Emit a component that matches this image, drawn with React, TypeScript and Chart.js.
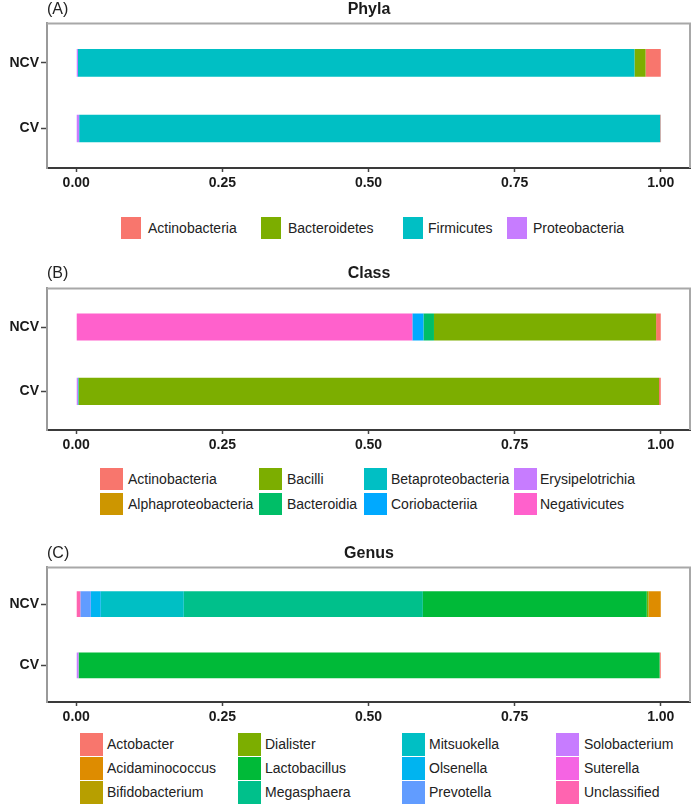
import React, { useEffect, useRef } from 'react';
import { Chart, registerables } from 'chart.js';

Chart.register(...registerables);

// ---------- data ----------
const samples = ['NCV', 'CV'];
const xTicks = [0, 0.25, 0.5, 0.75, 1];

const phylaNames = ['Actinobacteria', 'Bacteroidetes', 'Firmicutes', 'Proteobacteria'];
const phylaColors = ['#F8766D', '#7CAE00', '#00BFC4', '#C77CFF'];
const phylaNCV = [0.026, 0.019, 0.952, 0.003];
const phylaCV = [0.001, 0.0, 0.994, 0.005];

const classNames = [
  'Actinobacteria', 'Alphaproteobacteria', 'Bacilli', 'Bacteroidia',
  'Betaproteobacteria', 'Coriobacteriia', 'Erysipelotrichia', 'Negativicutes',
];
const classColors = ['#F8766D', '#CD9600', '#7CAE00', '#00BE67', '#00BFC4', '#00A9FF', '#C77CFF', '#FF61CC'];
const classNCV = [0.008, 0.0, 0.38, 0.018, 0.0, 0.019, 0.0, 0.575];
const classCV = [0.003, 0.0, 0.993, 0.0, 0.001, 0.0, 0.003, 0.0];

const genusNames = [
  'Actobacter', 'Acidaminococcus', 'Bifidobacterium', 'Dialister', 'Lactobacillus', 'Megasphaera',
  'Mitsuokella', 'Olsenella', 'Prevotella', 'Solobacterium', 'Suterella', 'Unclassified',
];
const genusColors = [
  '#F8766D', '#DE8C00', '#B79F00', '#7CAE00', '#00BA38', '#00C08B',
  '#00BFC4', '#00B4F0', '#619CFF', '#C77CFF', '#F564E3', '#FF64B0',
];
const genusNCV = [0.0, 0.021, 0.0, 0.003, 0.383, 0.409, 0.142, 0.017, 0.018, 0.0, 0.0, 0.007];
const genusCV = [0.002, 0.0, 0.0, 0.0, 0.994, 0.0, 0.0, 0.0, 0.0, 0.004, 0.0, 0.0];

// ---------- layout ----------
const FONT = '"Liberation Sans", Arial, Helvetica, sans-serif';
const W = 693;

const panels = [
  {
    tag: '(A)', title: 'Phyla', titleY: 9,
    names: phylaNames, colors: phylaColors, ncv: phylaNCV, cv: phylaCV,
    canvasTop: 13, canvasH: 185,
    legend: { rows: 1, keyX: [121, 261, 403, 507], textX: [148, 288, 428, 533], rowTop: [217], keyW: 20, keyH: 22 },
  },
  {
    tag: '(B)', title: 'Class', titleY: 273,
    names: classNames, colors: classColors, ncv: classNCV, cv: classCV,
    canvasTop: 278, canvasH: 182,
    legend: { rows: 2, keyX: [100, 259, 364, 514], textX: [128, 287, 391, 540], rowTop: [468, 493], keyW: 23, keyH: 22 },
  },
  {
    tag: '(C)', title: 'Genus', titleY: 553,
    names: genusNames, colors: genusColors, ncv: genusNCV, cv: genusCV,
    canvasTop: 557, canvasH: 175,
    legend: { rows: 3, keyX: [80, 238, 402, 556], textX: [107, 265, 429, 584], rowTop: [733, 757, 781], keyW: 23, keyH: 23 },
  },
];

const borderPlugin = {
  id: 'panelBorder',
  afterDraw(chart: any) {
    const { ctx, chartArea: a } = chart;
    ctx.save();
    ctx.strokeStyle = '#a8a8a8';
    ctx.lineWidth = 2;
    ctx.beginPath();
    ctx.moveTo(a.left, a.top);
    ctx.lineTo(a.right, a.top);
    ctx.lineTo(a.right, a.bottom);
    ctx.stroke();
    ctx.restore();
  },
};

function Panel({ p }: { p: any }) {
  const ref = useRef<HTMLCanvasElement | null>(null);

  useEffect(() => {
    if (!ref.current) return;
    // ggplot stacks the last factor level at the left
    const order = p.names.map((_: string, i: number) => i).reverse();
    const datasets = order.map((i: number) => ({
      label: p.names[i],
      data: [
        { x: p.ncv[i], y: 2 },
        { x: p.cv[i], y: 1 },
      ],
      backgroundColor: p.colors[i],
      borderWidth: 0,
      categoryPercentage: 1,
      barPercentage: 0.42,
    }));

    const chart = new Chart(ref.current, {
      type: 'bar',
      data: { datasets },
      plugins: [borderPlugin],
      options: {
        indexAxis: 'y',
        animation: false,
        responsive: false,
        maintainAspectRatio: false,
        layout: { padding: { top: 10, right: 3, left: 0, bottom: 0 } },
        plugins: { legend: { display: false }, tooltip: { enabled: false }, title: { display: false } },
        scales: {
          x: {
            type: 'linear',
            stacked: true,
            min: -0.05,
            max: 1.05,
            afterBuildTicks: (ax: any) => {
              ax.ticks = xTicks.map((v) => ({ value: v }));
            },
            afterFit: (ax: any) => {
              ax.height = 30;
            },
            ticks: {
              autoSkip: false,
              maxRotation: 0,
              padding: 3,
              color: '#1a1a1a',
              font: { family: FONT, size: 14, weight: 'bold' },
              callback: (v: any) => Number(v).toFixed(2),
            },
            grid: { drawOnChartArea: false, drawTicks: true, tickLength: 4, tickColor: '#444', tickWidth: 1.5 },
            border: { display: true, color: '#3a3a3a', width: 2 },
          },
          y: {
            type: 'linear',
            stacked: true,
            offset: false,
            min: 0.4,
            max: 2.6,
            afterBuildTicks: (ax: any) => {
              ax.ticks = [{ value: 1 }, { value: 2 }];
            },
            afterFit: (ax: any) => {
              ax.width = 47;
            },
            ticks: {
              autoSkip: false,
              padding: 2,
              color: '#1a1a1a',
              font: { family: FONT, size: 14, weight: 'bold' },
              callback: (v: any) => (v === 2 ? samples[0] : v === 1 ? samples[1] : ''),
            },
            grid: { offset: false, drawOnChartArea: false, drawTicks: true, tickLength: 6, tickColor: '#444', tickWidth: 1.5 },
            border: { display: true, color: '#9a9a9a', width: 2 },
          },
        },
      } as any,
    });
    return () => chart.destroy();
  }, [p]);

  const lg = p.legend;
  return (
    <>
      <canvas
        ref={ref}
        width={W}
        height={p.canvasH}
        style={{ position: 'absolute', left: 0, top: p.canvasTop, width: W, height: p.canvasH, display: 'block' }}
      />
      <div
        style={{
          position: 'absolute', left: 47, top: p.titleY - 10, height: 20, lineHeight: '20px',
          fontFamily: FONT, fontSize: 16, color: '#222',
        }}
      >
        {p.tag}
      </div>
      <div
        style={{
          position: 'absolute', left: 269, width: 200, top: p.titleY - 10, height: 20, lineHeight: '20px',
          textAlign: 'center', fontFamily: FONT, fontSize: 16, fontWeight: 'bold', color: '#1a1a1a',
        }}
      >
        {p.title}
      </div>
      {p.names.map((name: string, i: number) => {
        const col = Math.floor(i / lg.rows);
        const row = i % lg.rows;
        const top = lg.rowTop[row];
        return (
          <React.Fragment key={name}>
            <div
              style={{
                position: 'absolute', left: lg.keyX[col], top, width: lg.keyW, height: lg.keyH,
                background: p.colors[i],
              }}
            />
            <div
              style={{
                position: 'absolute', left: lg.textX[col], top, height: lg.keyH, lineHeight: lg.keyH + 'px',
                fontFamily: FONT, fontSize: 14, color: '#222', whiteSpace: 'nowrap',
              }}
            >
              {name}
            </div>
          </React.Fragment>
        );
      })}
    </>
  );
}

export default function App() {
  return (
    <div style={{ position: 'absolute', left: 0, top: 0, width: W, height: 809, background: '#fff', overflow: 'hidden' }}>
      {panels.map((p) => (
        <Panel key={p.title} p={p} />
      ))}
    </div>
  );
}
